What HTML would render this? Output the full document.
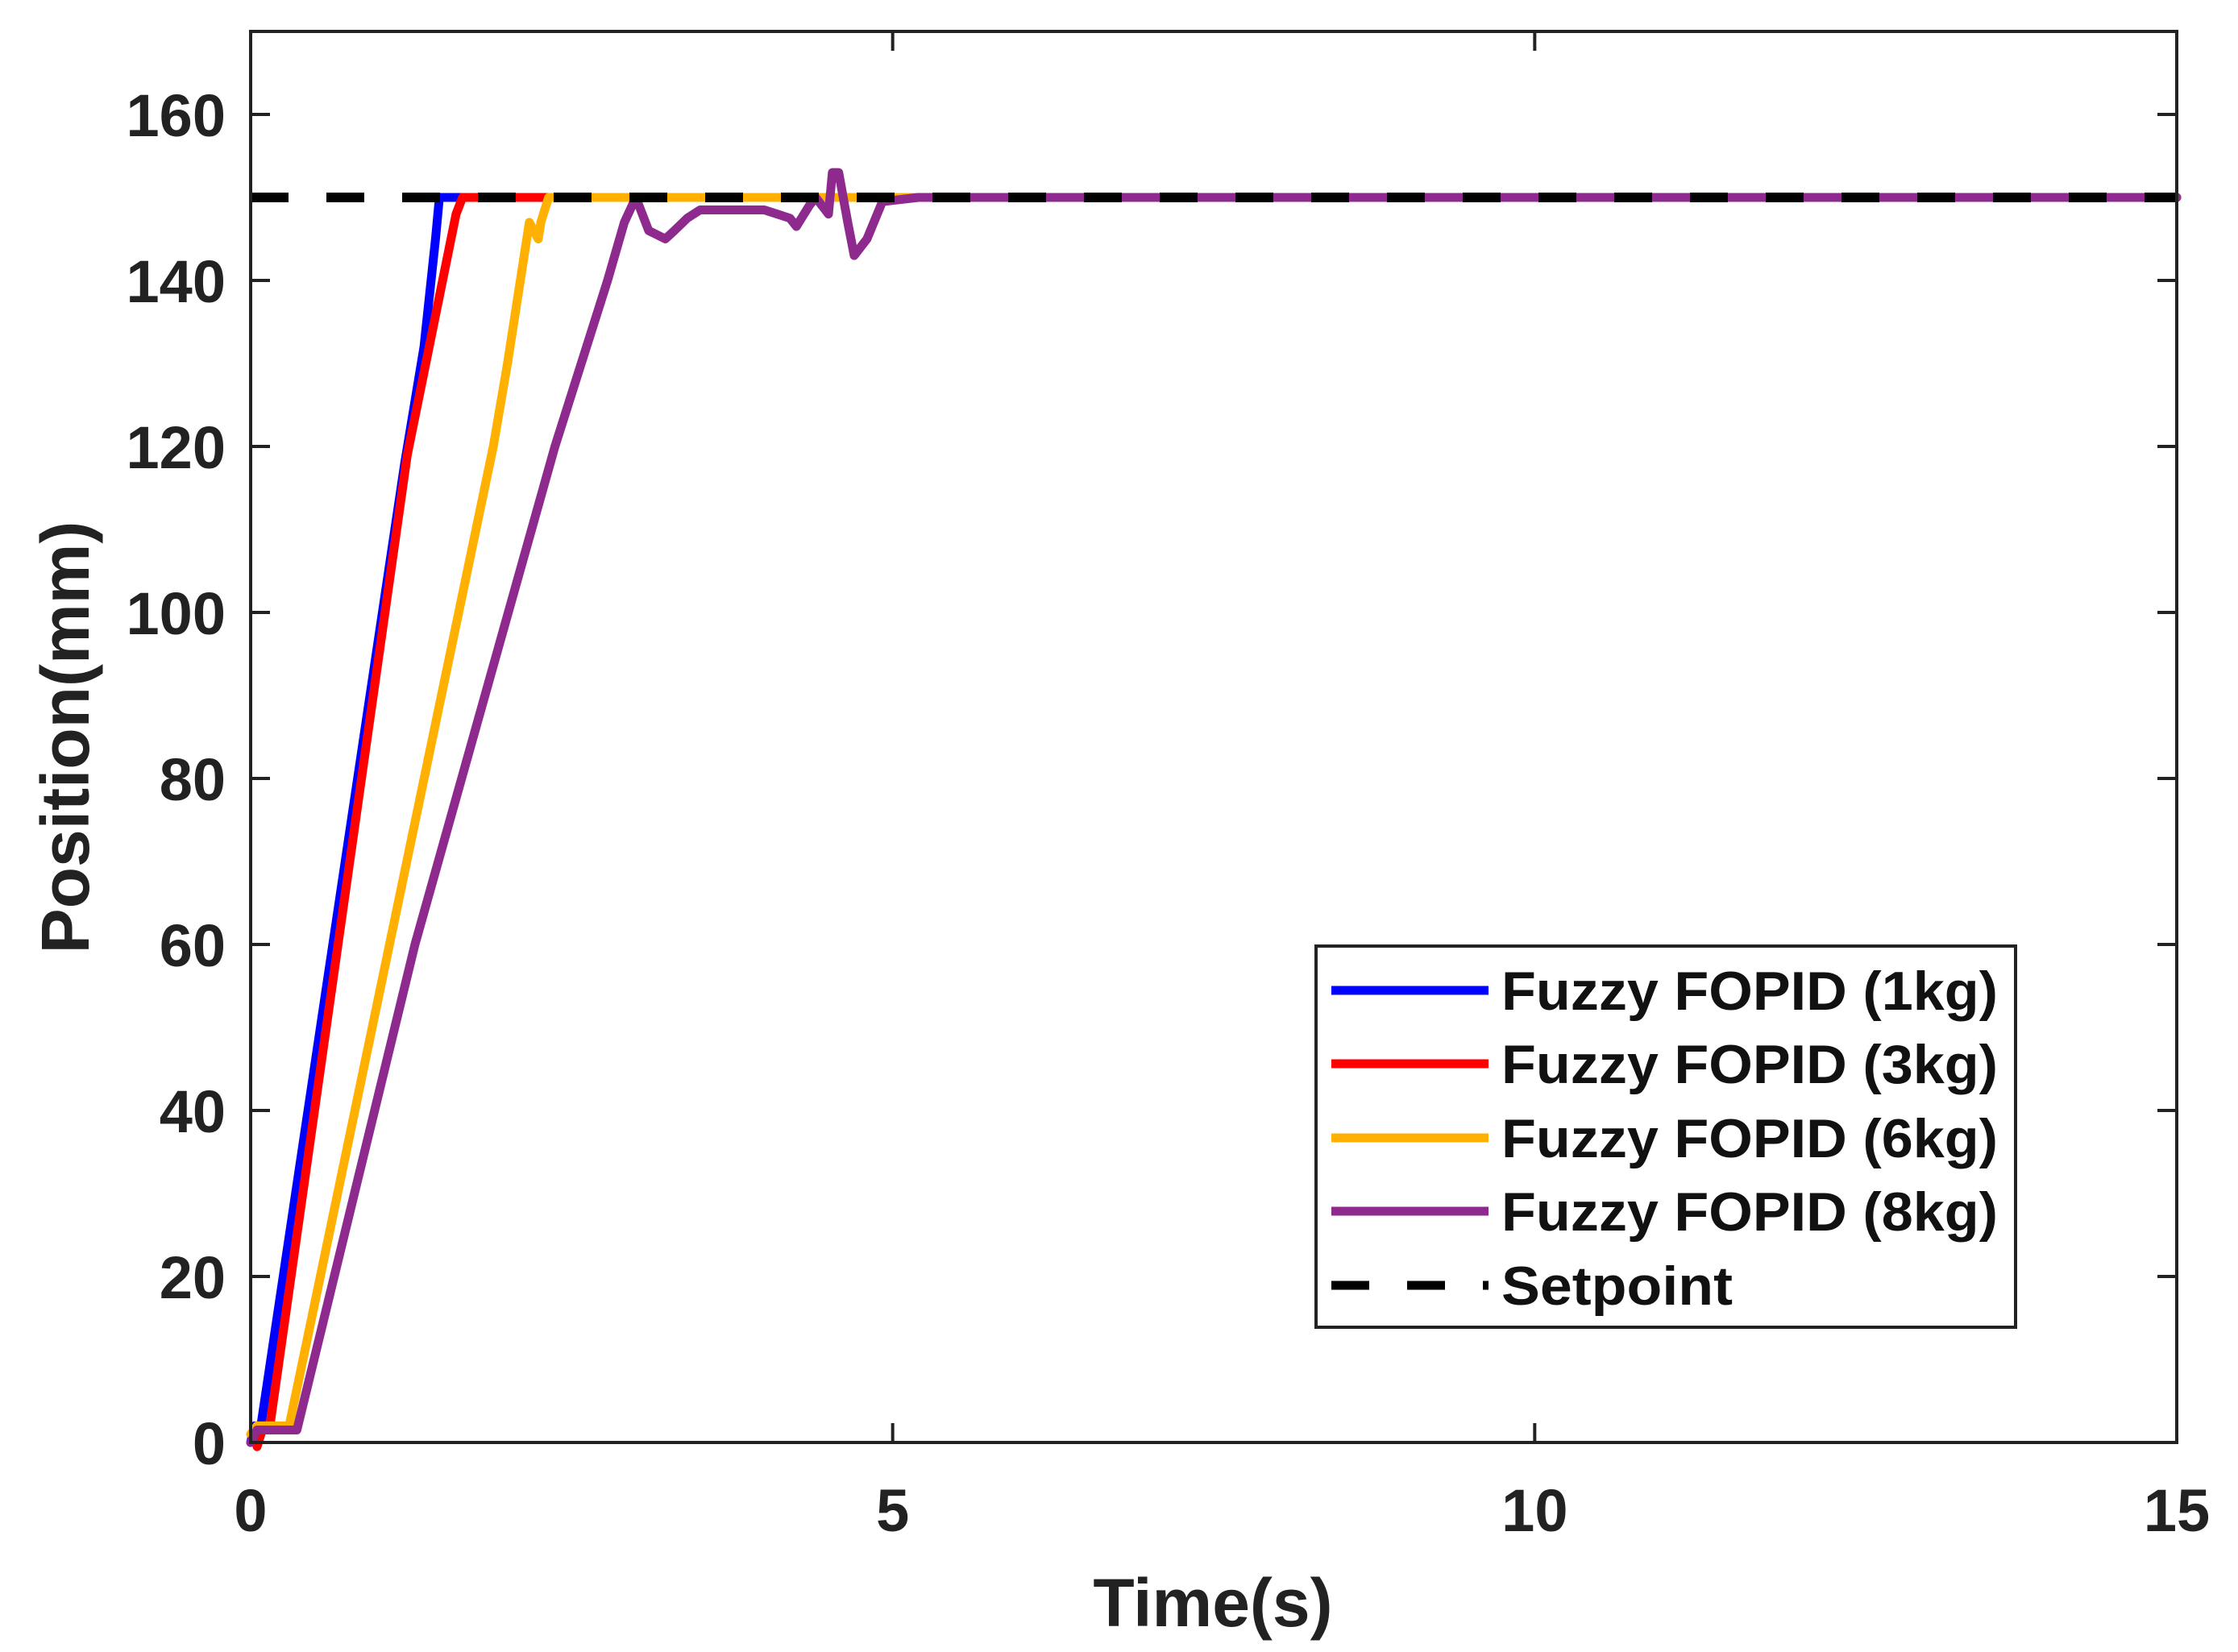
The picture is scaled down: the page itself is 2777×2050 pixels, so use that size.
<!DOCTYPE html>
<html><head><meta charset="utf-8"><style>
html,body{margin:0;padding:0;background:#fff;}
svg{display:block;font-family:"Liberation Sans",Arial,sans-serif;font-weight:bold;}
</style></head><body>
<svg id="chart" width="2777" height="2050" viewBox="0 0 2777 2050">
<rect x="0" y="0" width="2777" height="2050" fill="#fff"/>
<g id="series"></g>
<g id="axes"></g>
<g id="legend"></g>
</svg>
<script>
const xTicks=[0,5,10,15];
const yTicks=[0,20,40,60,80,100,120,140,160];
const setpoint=150;
const seriesNames=["Fuzzy FOPID (1kg)","Fuzzy FOPID (3kg)","Fuzzy FOPID (6kg)","Fuzzy FOPID (8kg)"];
const seriesColors=["#0000ff","#ff0000","#ffb000","#8e2a8e"];
const t1=[0,0.03,0.08,1.2,1.35,1.44,1.47,15];
const v1=[0,2,2,118,132,145,150,150];
const t2=[0.05,0.1,0.15,1.22,1.6,1.65,15];
const v2=[-0.5,2,2,119,148,150,150];
const t3=[0,0.05,0.3,1.89,2.0,2.17,2.24,2.26,2.32,15];
const v3=[1,2,2,120,130,147,145,147,150,150];
const t4=[0,0.05,0.36,1.28,2.37,2.78,2.91,3.0,3.1,3.23,3.3,3.4,3.5,4.0,4.1,4.2,4.25,4.35,4.4,4.5,4.53,4.58,4.65,4.7,4.8,4.92,5.2,15];
const v4=[0,1.5,1.5,60,120,140,147,150,146,145,146,147.5,148.5,148.5,148,147.5,146.5,149,150,148,153,153,147,143,145,149.5,150,150];
const seriesT=[t1,t2,t3,t4];
const seriesV=[v1,v2,v3,v4];

const L=311,R=2701,T=39,B=1790,XMAX=15,YMAX=170;
function sx(t){return L+(t/XMAX)*(R-L);}
function sy(v){return B-(v/YMAX)*(B-T);}
const NS="http://www.w3.org/2000/svg";
function mk(tag,attrs,parent){const e=document.createElementNS(NS,tag);for(const k in attrs)e.setAttribute(k,attrs[k]);parent.appendChild(e);return e;}

const gS=document.getElementById('series');
for(let i=0;i<4;i++){
  const pts=seriesT[i].map((t,j)=>sx(t).toFixed(1)+","+sy(seriesV[i][j]).toFixed(1)).join(" ");
  const p=mk('polyline',{points:pts,fill:"none",stroke:seriesColors[i],"stroke-width":11,"stroke-linejoin":"round","stroke-linecap":"round"},gS);
  
  
}
const sp=mk('line',{x1:L,y1:sy(setpoint),x2:R,y2:sy(setpoint),stroke:"#000","stroke-width":12,"stroke-dasharray":"47 47"},gS);



const gA=document.getElementById('axes');
const box=mk('rect',{x:L,y:T,width:R-L,height:B-T,fill:"none",stroke:"#222","stroke-width":4},gA);


xTicks.forEach(t=>{
  const x=sx(t);
  mk('line',{x1:x,y1:B,x2:x,y2:B-24,stroke:"#222","stroke-width":4},gA);
  mk('line',{x1:x,y1:T,x2:x,y2:T+24,stroke:"#222","stroke-width":4},gA);
  const tx=mk('text',{x:x,y:1900,"text-anchor":"middle","font-size":74,fill:"#222"},gA);
  tx.textContent=t;
  
  
});
yTicks.forEach(v=>{
  const y=sy(v);
  mk('line',{x1:L,y1:y,x2:L+24,y2:y,stroke:"#222","stroke-width":4},gA);
  mk('line',{x1:R,y1:y,x2:R-24,y2:y,stroke:"#222","stroke-width":4},gA);
  const tx=mk('text',{x:280,y:y+27,"text-anchor":"end","font-size":74,fill:"#222"},gA);
  tx.textContent=v;
  
  
});
const xt=mk('text',{x:1505,y:2018,"text-anchor":"middle","font-size":84,fill:"#222"},gA);
xt.textContent="Time(s)";


const yt=mk('text',{x:0,y:0,"text-anchor":"middle","font-size":84,fill:"#222",transform:"translate(110,915) rotate(-90)"},gA);
yt.textContent="Position(mm)";



const gL=document.getElementById('legend');


mk('rect',{x:1633,y:1174,width:868,height:473,fill:"#fff",stroke:"#222","stroke-width":4},gL);
const rowY=[1229,1320,1412,1503,1595];
const labels=seriesNames.concat(["Setpoint"]);
labels.forEach((name,i)=>{
  const y=rowY[i];
  const ln=mk('line',{x1:1652,y1:y,x2:1847,y2:y,stroke:i<4?seriesColors[i]:"#000","stroke-width":11},gL);
  if(i===4)ln.setAttribute('stroke-dasharray','47 47');
  
  
  const attrs={x:1863,y:y+24,"font-size":68,fill:"#111"};
  if(i<4){attrs.textLength=616;attrs.lengthAdjust="spacingAndGlyphs";}
  else{attrs.textLength=287;attrs.lengthAdjust="spacingAndGlyphs";}
  const tx=mk('text',attrs,gL);
  tx.textContent=name;
  
  
});
</script>
</body></html>
